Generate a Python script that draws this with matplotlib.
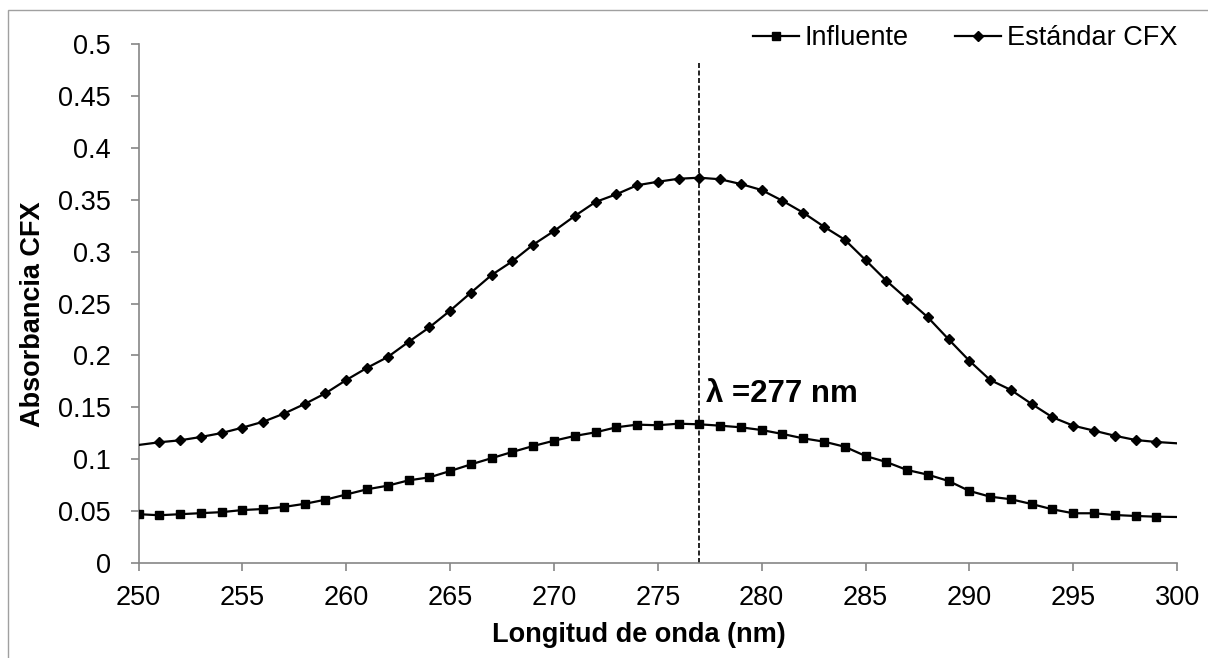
import numpy as np
import matplotlib
matplotlib.use('Agg')
import matplotlib.pyplot as plt
from matplotlib.ticker import FuncFormatter, MultipleLocator
from matplotlib.patches import Rectangle

plt.rcParams['font.family'] = ['Liberation Sans', 'DejaVu Sans']

# wavelength (nm)
wavelength = list(range(250, 301))

influente = [0.047, 0.046, 0.047, 0.048, 0.049, 0.051, 0.052, 0.054, 0.057, 0.061,
             0.066, 0.071, 0.0745, 0.0796, 0.0825, 0.0886, 0.095, 0.101, 0.107, 0.1127,
             0.1178, 0.1224, 0.1259, 0.1307, 0.1333, 0.1327, 0.1342, 0.1336, 0.1323, 0.1307,
             0.1281, 0.1243, 0.1201, 0.1169, 0.112, 0.1031, 0.0973, 0.0896, 0.0851, 0.079,
             0.0694, 0.0639, 0.0614, 0.0568, 0.0517, 0.0479, 0.0479, 0.0462, 0.0453, 0.0446,
             0.0443]

estandar = [0.1137, 0.1163, 0.1182, 0.1214, 0.1252, 0.1304, 0.1361, 0.1439, 0.1532, 0.1635,
            0.1763, 0.188, 0.1985, 0.213, 0.227, 0.2431, 0.2604, 0.2775, 0.2907, 0.3067,
            0.3198, 0.3343, 0.3478, 0.3552, 0.3639, 0.3673, 0.3702, 0.3712, 0.3697, 0.3651,
            0.3593, 0.349, 0.3375, 0.324, 0.3115, 0.2919, 0.272, 0.2543, 0.2367, 0.2155,
            0.1948, 0.1763, 0.1667, 0.1532, 0.1404, 0.1323, 0.1275, 0.1226, 0.1185, 0.1166,
            0.1153]

peak_nm = 277
peak_label = 'λ =277 nm'

fig = plt.figure(figsize=(12.08, 6.58), dpi=100)
ax = fig.add_axes([0.1147, 0.1444, 0.8597, 0.7887])

# outer chart frame
fig.patches.append(Rectangle((8 / 1208, -0.05), 1.1, 1 - 10 / 658 + 0.05,
                             transform=fig.transFigure, fill=False,
                             edgecolor='#a0a0a0', linewidth=1.0))

ax.plot(wavelength, influente, color='black', lw=1.6, marker='s', ms=6.2,
        markevery=slice(0, 50), label='Influente', zorder=3)
ax.plot(wavelength, estandar, color='black', lw=1.6, marker='D', ms=4.8,
        markevery=slice(1, 50), label='Estándar CFX', zorder=3)

ax.vlines(peak_nm, 0, 0.483, colors='black', linestyles=(0, (3, 1.5)), lw=1.2, zorder=2)
ax.text(peak_nm + 0.3, 0.163, peak_label, fontsize=22.5, fontweight='bold',
        ha='left', va='center')

ax.set_xlim(250, 300)
ax.set_ylim(0, 0.5)
ax.xaxis.set_major_locator(MultipleLocator(5))
ax.yaxis.set_major_locator(MultipleLocator(0.05))
ax.yaxis.set_major_formatter(FuncFormatter(lambda v, p: '%g' % round(v, 2)))

for s in ['top', 'right']:
    ax.spines[s].set_visible(False)
for s in ['left', 'bottom']:
    ax.spines[s].set_color('#868686')
    ax.spines[s].set_linewidth(1.2)
ax.tick_params(axis='both', direction='out', length=6, width=1.2, color='#868686',
               labelsize=19.5)
ax.tick_params(axis='y', pad=14)
ax.tick_params(axis='x', pad=10)

ax.set_xlabel('Longitud de onda (nm)', fontsize=19.5, fontweight='bold')
ax.set_ylabel('Absorbancia CFX', fontsize=19.5, fontweight='bold')
ax.xaxis.set_label_coords(0.482, -0.114)
ax.yaxis.set_label_coords(-0.089, 0.48)

fig.legend(loc='center right', bbox_to_anchor=(1177 / 1208, 1 - 38 / 658), ncol=2,
           frameon=False, fontsize=19.5, handlelength=1.7, handletextpad=0.2,
           columnspacing=1.7, borderpad=0, borderaxespad=0)

fig.savefig('out.png', dpi=100)
